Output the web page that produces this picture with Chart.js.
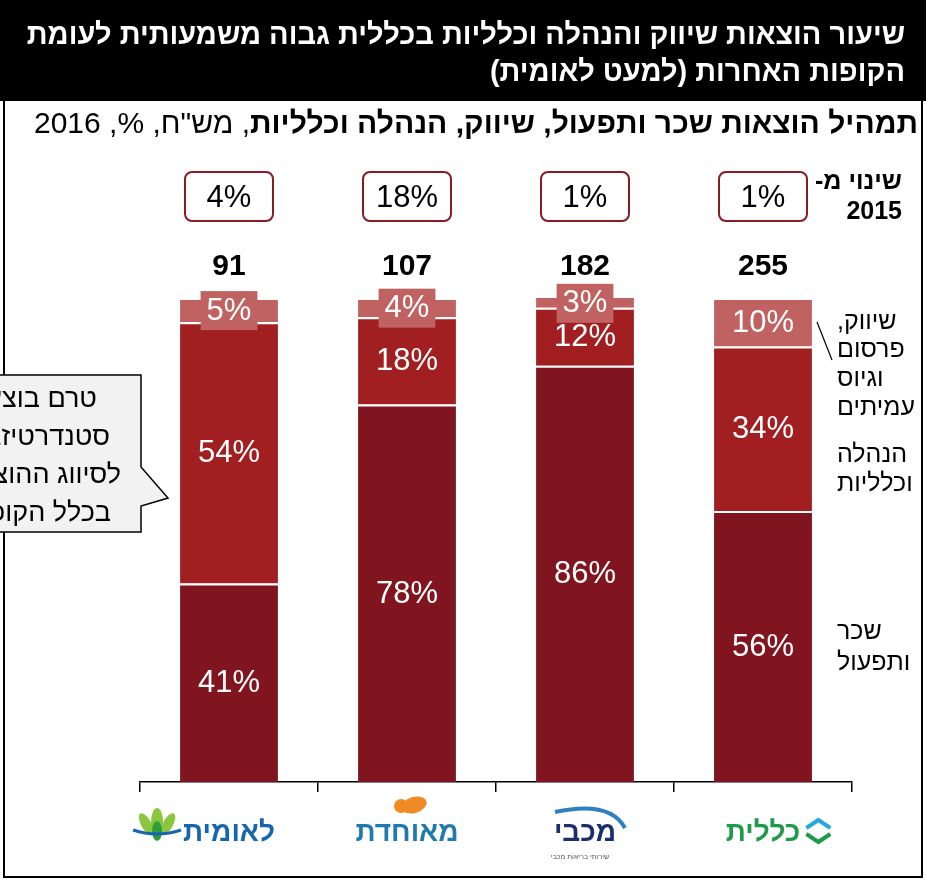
<!DOCTYPE html>
<html>
<head>
<meta charset="utf-8">
<script src="https://cdn.jsdelivr.net/npm/chart.js@4"></script>
<style>
  html, body { margin: 0; padding: 0; background: #fff; }
  canvas { display: block; }
</style>
</head>
<body>
<canvas id="funds-chart" width="926" height="879"></canvas>
<script>
'use strict'

// kupot (left to right as drawn)
const categories = ['לאומית', 'מאוחדת', 'מכבי', 'כללית'];
const salaryOps = [41, 78, 86, 56];        // שכר ותפעול
const adminGeneral = [54, 18, 12, 34];     // הנהלה וכלליות
const marketing = [5, 4, 3, 10];           // שיווק, פרסום וגיוס עמיתים
const totals = [91, 107, 182, 255];        // מש"ח
const changeFrom2015 = [4, 18, 1, 1];      // %
const logoColors = ['#1565B0', '#1F7AB0', '#1B2F70', '#1E9A48'];

const colSalary = '#80151F';
const colAdmin = '#A11F21';
const colMarketing = '#C06262';
const FONT = '"Liberation Sans", Arial, sans-serif';
const LOGO_FONT = 'bold 28px ' + FONT;

const titleLines = [
    'שיעור הוצאות שיווק והנהלה וכלליות בכללית גבוה משמעותית לעומת',
    'הקופות האחרות (למעט לאומית)'
];
const subtitleBold = 'תמהיל הוצאות שכר ותפעול, שיווק, הנהלה וכלליות';
const subtitleRest = ', מש"ח, %, 2016';
const calloutLines = ['טרם בוצעה', 'סטנדרטיזציה', 'לסיווג ההוצאות', 'בכלל הקופות'];

const framePlugin = {
    id: 'frame',
    beforeDraw(chart) {
        const c = chart.ctx;
        c.save();
        c.fillStyle = '#fff';
        c.fillRect(0, 0, chart.width, chart.height);
        c.fillStyle = '#000';
        c.fillRect(0, 0, chart.width, 101);
        c.direction = 'rtl';
        c.textAlign = 'right';
        c.textBaseline = 'middle';
        c.fillStyle = '#fff';
        c.font = 'bold 29px ' + FONT;
        c.fillText(titleLines[0], 905, 36);
        c.fillText(titleLines[1], 905, 73);

        // subtitle: bold part then regular part
        c.fillStyle = '#000';
        c.font = 'bold 30px ' + FONT;
        c.fillText(subtitleBold, 918, 125);
        const w = c.measureText(subtitleBold).width;
        c.font = '30px ' + FONT;
        c.fillText(subtitleRest, 918 - w, 125);

        // outer frame
        c.strokeStyle = '#000';
        c.lineWidth = 2;
        c.beginPath();
        c.moveTo(4, 100); c.lineTo(4, 877); c.lineTo(922, 877); c.lineTo(922, 100);
        c.stroke();
        c.restore();
    }
};

function roundRect(c, x, y, w, h, r) {
    c.beginPath();
    c.moveTo(x + r, y);
    c.arcTo(x + w, y, x + w, y + h, r);
    c.arcTo(x + w, y + h, x, y + h, r);
    c.arcTo(x, y + h, x, y, r);
    c.arcTo(x, y, x + w, y, r);
    c.closePath();
}

const labelsPlugin = {
    id: 'segLabels',
    afterDatasetsDraw(chart) {
        const c = chart.ctx;
        const top = chart.chartArea.top;
        c.save();
        c.textAlign = 'center';
        c.textBaseline = 'middle';
        c.font = '31px ' + FONT;
        chart.data.datasets.forEach((ds, i) => {
            chart.getDatasetMeta(i).data.forEach((bar, j) => {
                const y0 = Math.max(bar.y, top);
                const cy = (y0 + bar.base) / 2;
                const txt = ds.data[j] + '%';
                if (i === 2) {
                    const tw = c.measureText(txt).width + 12;
                    c.fillStyle = colMarketing;
                    c.fillRect(bar.x - tw / 2, cy - 19, tw, 39);
                }
                c.fillStyle = '#fff';
                c.fillText(txt, bar.x, cy + 1);
            });
        });
        c.restore();
    },
    afterDraw(chart) {
        const c = chart.ctx;
        const xs = chart.scales.x;
        c.save();
        c.textAlign = 'center';
        c.textBaseline = 'middle';
        categories.forEach((cat, i) => {
            const x = xs.getPixelForValue(i);
            // change vs 2015 box
            roundRect(c, x - 44, 172, 88, 49, 7);
            c.fillStyle = '#fff';
            c.fill();
            c.strokeStyle = '#8B1A22';
            c.lineWidth = 2;
            c.stroke();
            c.fillStyle = '#000';
            c.font = '31px ' + FONT;
            c.fillText(changeFrom2015[i] + '%', x, 198);
            // total
            c.font = 'bold 30px ' + FONT;
            c.fillText(String(totals[i]), x, 267);
        });

        // right hand labels
        c.direction = 'rtl';
        c.textAlign = 'right';
        c.font = 'bold 25px ' + FONT;
        c.fillText('שינוי מ-', 902, 182);
        c.fillText('2015', 902, 212);
        c.textAlign = 'left';
        c.font = '25px ' + FONT;
        const leg = [
            ['שיווק,', 322], ['פרסום', 350], ['וגיוס', 379], ['עמיתים', 408],
            ['הנהלה', 455], ['וכלליות', 484],
            ['שכר', 632], ['ותפעול', 663]
        ];
        leg.forEach(([t, y]) => c.fillText(t, 837, y));
        c.strokeStyle = '#000';
        c.lineWidth = 1.2;
        c.beginPath();
        c.moveTo(817, 322); c.lineTo(832, 360);
        c.stroke();

        // callout on the left
        c.beginPath();
        c.moveTo(-10, 375); c.lineTo(141, 375); c.lineTo(141, 467);
        c.lineTo(168, 498); c.lineTo(141, 506); c.lineTo(141, 532);
        c.lineTo(-10, 532); c.closePath();
        c.fillStyle = '#F2F2F2';
        c.fill();
        c.strokeStyle = '#000';
        c.lineWidth = 1.5;
        c.stroke();
        c.fillStyle = '#000';
        c.font = '27px ' + FONT;
        c.textAlign = 'right';
        const rx = [97, 110, 121, 111];
        const ry = [400, 438, 476, 514];
        calloutLines.forEach((t, k) => c.fillText(t, rx[k], ry[k]));
        c.direction = 'ltr';

        // small logo marks next to the names
        c.font = LOGO_FONT;
        const half = i => c.measureText(categories[i]).width / 2;
        const ly = 828;
        // leumit leaves + wing
        let x = xs.getPixelForValue(0) - half(0) - 26;
        c.fillStyle = '#8CC63F';
        c.beginPath(); c.ellipse(x, ly - 6, 6, 14, 0, 0, Math.PI * 2); c.fill();
        c.beginPath(); c.ellipse(x - 11, ly - 4, 5, 12, -0.5, 0, Math.PI * 2); c.fill();
        c.beginPath(); c.ellipse(x + 11, ly - 4, 5, 12, 0.5, 0, Math.PI * 2); c.fill();
        c.fillStyle = '#2E9D3A';
        c.beginPath(); c.ellipse(x, ly + 3, 5, 10, 0, 0, Math.PI * 2); c.fill();
        c.strokeStyle = '#1565B0';
        c.lineWidth = 3;
        c.beginPath(); c.moveTo(x - 24, ly + 2); c.quadraticCurveTo(x, ly + 10, x + 24, ly + 2); c.stroke();
        // meuhedet heart
        x = xs.getPixelForValue(1);
        c.fillStyle = '#F08A24';
        c.beginPath(); c.arc(x - 6, 806, 7, 0, Math.PI * 2); c.fill();
        c.beginPath(); c.ellipse(x + 7, 805, 13, 8, -0.3, 0, Math.PI * 2); c.fill();
        // maccabi swoosh
        x = xs.getPixelForValue(2);
        c.strokeStyle = '#2F7FC1';
        c.lineWidth = 4;
        c.beginPath(); c.moveTo(x - 30, 812); c.quadraticCurveTo(x + 25, 800, x + 40, 828); c.stroke();
        c.fillStyle = '#555';
        c.font = '7px ' + FONT;
        c.textAlign = 'center';
        c.fillText('שירותי בריאות מכבי', x - 5, 857);
        // clalit chevrons
        c.font = LOGO_FONT;
        x = xs.getPixelForValue(3) + half(3) + 6;
        c.lineWidth = 4;
        c.strokeStyle = '#29A8E0';
        c.beginPath(); c.moveTo(x, 828); c.lineTo(x + 12, 820); c.lineTo(x + 24, 828); c.stroke();
        c.strokeStyle = '#1E9A48';
        c.beginPath(); c.moveTo(x, 834); c.lineTo(x + 12, 842); c.lineTo(x + 24, 834); c.stroke();
        c.restore();
    }
};

const ctx = document.getElementById('funds-chart').getContext('2d');
const fundsChart = new Chart(ctx, {
    type: 'bar',
    data: {
        labels: categories,
        datasets: [
            {
                label: 'שכר ותפעול',
                data: salaryOps,
                backgroundColor: colSalary
            },
            {
                label: 'הנהלה וכלליות',
                data: adminGeneral,
                backgroundColor: colAdmin
            },
            {
                label: 'שיווק, פרסום וגיוס עמיתים',
                data: marketing,
                backgroundColor: colMarketing
            }
        ].map(d => Object.assign(d, {
            borderColor: '#fff',
            borderWidth: { top: 2, bottom: 0, left: 0, right: 0 },
            borderSkipped: 'start',
            barPercentage: 0.55,
            categoryPercentage: 1
        }))
    },
    options: {
        responsive: false,
        animation: false,
        devicePixelRatio: 1,
        layout: { padding: { top: 298, left: 140, right: 74, bottom: 0 } },
        plugins: {
            legend: { display: false },
            tooltip: { enabled: false }
        },
        scales: {
            x: {
                stacked: true,
                grid: {
                    offset: true,
                    drawOnChartArea: false,
                    drawTicks: true,
                    tickLength: 10,
                    color: '#000',
                    lineWidth: 1.5
                },
                border: { display: true, color: '#000', width: 1.5 },
                ticks: {
                    padding: 24,
                    font: { family: FONT, size: 28, weight: 'bold' },
                    color: logoColors
                },
                afterFit(scale) { scale.height = 97; }
            },
            y: {
                stacked: true,
                display: false,
                min: 0,
                max: 100
            }
        }
    },
    plugins: [framePlugin, labelsPlugin]
});
</script>
</body>
</html>
